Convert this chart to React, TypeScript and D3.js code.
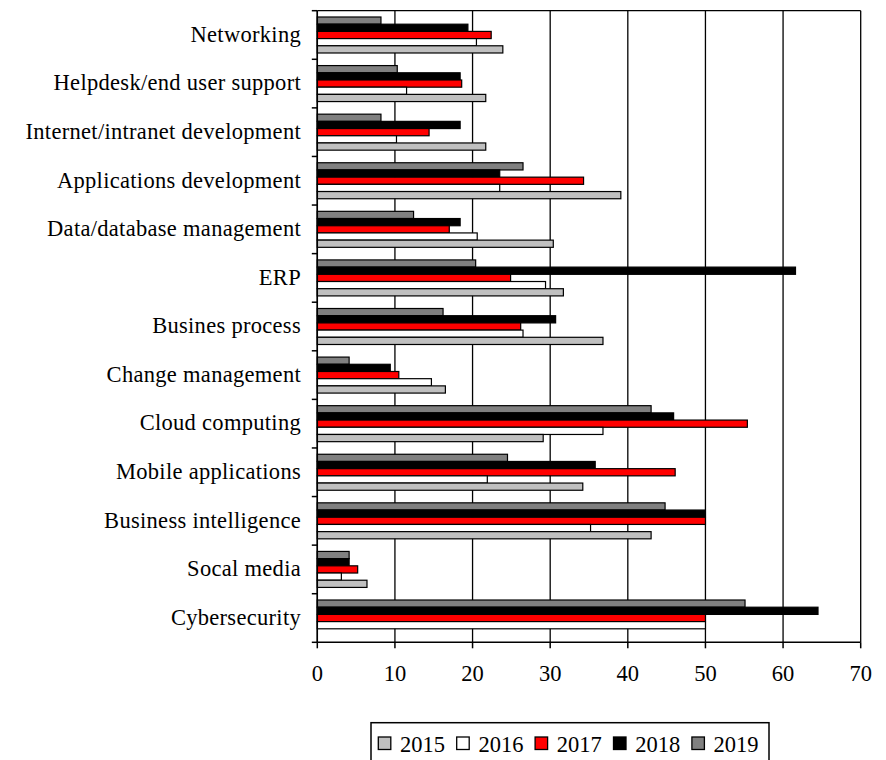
import React from "react";
import * as d3 from "d3";

const categories = [
  "Networking",
  "Helpdesk/end user support",
  "Internet/intranet development",
  "Applications development",
  "Data/database management",
  "ERP",
  "Busines process",
  "Change management",
  "Cloud computing",
  "Mobile applications",
  "Business intelligence",
  "Socal media",
  "Cybersecurity",
];

const years = ["2015", "2016", "2017", "2018", "2019"];

const v2015 = [23.9, 21.7, 21.7, 39.1, 30.4, 31.7, 36.8, 16.5, 29.1, 34.2, 43.0, 6.4, 0];
const v2016 = [20.5, 11.5, 10.2, 23.5, 20.6, 29.4, 26.5, 14.7, 36.8, 21.9, 35.2, 3.1, 50];
const v2017 = [22.4, 18.6, 14.4, 34.3, 17.0, 24.9, 26.2, 10.5, 55.4, 46.1, 50, 5.2, 50];
const v2018 = [19.4, 18.4, 18.4, 23.5, 18.4, 61.6, 30.7, 9.4, 45.9, 35.8, 50, 4.1, 64.5];
const v2019 = [8.2, 10.3, 8.2, 26.5, 12.4, 20.4, 16.2, 4.1, 43.0, 24.5, 44.8, 4.1, 55.1];

const xTicks = [0, 10, 20, 30, 40, 50, 60, 70];

const seriesValues = [v2015, v2016, v2017, v2018, v2019];
const colors = ["#c0c0c0", "#ffffff", "#ff0000", "#000000", "#808080"];

const FONT = "'Liberation Serif', 'Times New Roman', serif";

export default function App() {
  const left = 317.3;
  const right = 860.7;
  const top = 10.7;
  const bottom = 642.3;

  const x = d3.scaleLinear().domain([0, 70]).range([left, right]);
  const y = d3.scaleBand().domain(categories).range([top, bottom]).padding(0);
  const inner = d3
    .scaleBand()
    .domain([...years].reverse())
    .range([0, y.bandwidth()])
    .paddingInner(0)
    .paddingOuter(0.875);

  const bandEdges = categories.map((c) => y(c) as number).concat([bottom]);

  const legendX0 = 378.3;
  const legendStep = 78.4;

  return (
    <svg
      width={886}
      height={760}
      style={{ position: "absolute", left: 0, top: 0, background: "#fff" }}
      fontFamily={FONT}
    >
      <rect x={0} y={0} width={886} height={760} fill="#fff" />
      {xTicks.map((t) => (
        <line
          key={"g" + t}
          x1={x(t)}
          x2={x(t)}
          y1={top}
          y2={bottom}
          stroke="#000"
          strokeWidth={1.3}
        />
      ))}
      <line x1={left} x2={right} y1={top} y2={top} stroke="#000" strokeWidth={1.3} />

      {categories.map((c, ci) => (
        <g key={c}>
          {years
            .map((yr, si) => ({ yr, si }))
            .reverse()
            .map(({ yr, si }) => {
              const v = seriesValues[si][ci];
              if (!v) return null;
              return (
                <rect
                  key={yr}
                  x={x(0)}
                  y={(y(c) as number) + (inner(yr) as number)}
                  width={x(v) - x(0)}
                  height={inner.bandwidth()}
                  fill={colors[si]}
                  stroke="#000"
                  strokeWidth={1.2}
                />
              );
            })}
        </g>
      ))}

      <line x1={left} x2={left} y1={top} y2={bottom} stroke="#000" strokeWidth={1.5} />
      {bandEdges.map((e, i) => (
        <line key={"yt" + i} x1={left - 5.5} x2={left} y1={e} y2={e} stroke="#000" strokeWidth={1.5} />
      ))}
      <line x1={left} x2={right} y1={bottom} y2={bottom} stroke="#000" strokeWidth={1.5} />
      {xTicks.map((t) => (
        <line key={"xt" + t} x1={x(t)} x2={x(t)} y1={bottom} y2={bottom + 6} stroke="#000" strokeWidth={1.5} />
      ))}
      {xTicks.map((t) => (
        <text key={"xl" + t} x={x(t)} y={680.7} fontSize={22.5} textAnchor="middle" fill="#000">
          {t}
        </text>
      ))}
      {categories.map((c) => (
        <text
          key={"cl" + c}
          x={301}
          y={(y(c) as number) + y.bandwidth() / 2 + 6.8}
          fontSize={22.5}
          letterSpacing={0.3}
          textAnchor="end"
          fill="#000"
        >
          {c}
        </text>
      ))}

      <rect x={371} y={722.7} width={398} height={60} fill="#fff" stroke="#000" strokeWidth={1.5} />
      {years.map((yr, i) => (
        <g key={"lg" + yr}>
          <rect
            x={legendX0 + i * legendStep}
            y={737}
            width={12.5}
            height={12.5}
            fill={colors[i]}
            stroke="#000"
            strokeWidth={1.3}
          />
          <text x={legendX0 + i * legendStep + 21.7} y={751.6} fontSize={22.5} fill="#000">
            {yr}
          </text>
        </g>
      ))}
    </svg>
  );
}
